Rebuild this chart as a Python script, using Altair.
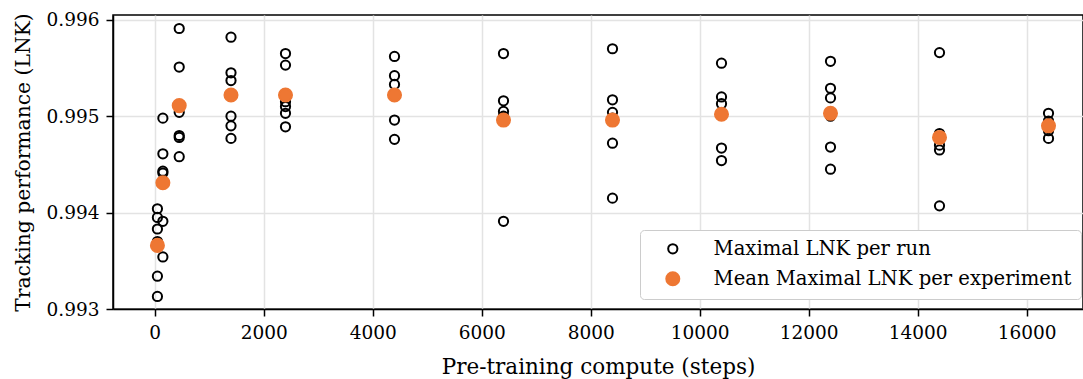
import altair as alt
import pandas as pd

# Pre-training compute (steps) of each experiment
experiment_steps = [50, 150, 450, 1400, 2400, 4400, 6400, 8400, 10400, 12400, 14400, 16400]

# Maximal LNK of each run (6 runs per experiment)
runs_lnk = [
    [0.99404, 0.99395, 0.99383, 0.99370, 0.99334, 0.99313],
    [0.99498, 0.99461, 0.99443, 0.99441, 0.99391, 0.99354],
    [0.99591, 0.99551, 0.99504, 0.99480, 0.99478, 0.99458],
    [0.99582, 0.99545, 0.99537, 0.99500, 0.99490, 0.99477],
    [0.99565, 0.99553, 0.99515, 0.99510, 0.99503, 0.99489],
    [0.99562, 0.99542, 0.99533, 0.99523, 0.99496, 0.99476],
    [0.99565, 0.99516, 0.99505, 0.99500, 0.99499, 0.99391],
    [0.99570, 0.99517, 0.99504, 0.99498, 0.99472, 0.99415],
    [0.99555, 0.99520, 0.99513, 0.99503, 0.99467, 0.99454],
    [0.99557, 0.99529, 0.99519, 0.99500, 0.99468, 0.99445],
    [0.99566, 0.99482, 0.99478, 0.99470, 0.99465, 0.99407],
    [0.99503, 0.99495, 0.99490, 0.99488, 0.99485, 0.99477],
]

# Mean maximal LNK per experiment
mean_lnk = [0.99366, 0.99431, 0.99511, 0.99522, 0.99522, 0.99522,
            0.99496, 0.99496, 0.99502, 0.99503, 0.99478, 0.99490]

series_names = ["Maximal LNK per run", "Mean Maximal LNK per experiment"]
x_ticks = [0, 2000, 4000, 6000, 8000, 10000, 12000, 14000, 16000]
y_ticks = [0.993, 0.994, 0.995, 0.996]

rows = []
for s, vals in zip(experiment_steps, runs_lnk):
    for v in vals:
        rows.append({"steps": s, "lnk": v, "series": series_names[0]})
for s, v in zip(experiment_steps, mean_lnk):
    rows.append({"steps": s, "lnk": v, "series": series_names[1]})
df = pd.DataFrame(rows)

FONT = "DejaVu Serif"
ORANGE = "#ee7733"

chart = alt.Chart(df).mark_point(shape="circle", strokeWidth=2, opacity=1).encode(
    x=alt.X("steps:Q", title="Pre-training compute (steps)",
            scale=alt.Scale(domain=[-765, 17033], nice=False, zero=False),
            axis=alt.Axis(values=x_ticks, format="d")),
    y=alt.Y("lnk:Q", title="Tracking performance (LNK)",
            scale=alt.Scale(domain=[0.993, 0.99605], nice=False, zero=False),
            axis=alt.Axis(values=y_ticks, format=".3f")),
    stroke=alt.Stroke("series:N", sort=series_names,
                      scale=alt.Scale(domain=series_names, range=["black", ORANGE]),
                      legend=alt.Legend(title=None)),
    fill=alt.Fill("series:N", sort=series_names,
                  scale=alt.Scale(domain=series_names, range=["transparent", ORANGE]),
                  legend=alt.Legend(title=None)),
    size=alt.Size("series:N", sort=series_names,
                  scale=alt.Scale(domain=series_names, range=[85, 170]),
                  legend=alt.Legend(title=None)),
).properties(
    width=970, height=294,
    autosize=alt.AutoSizeParams(type="none"),
    padding={"left": 113, "top": 15, "right": 0, "bottom": 70},
).configure_view(
    stroke="black", strokeWidth=1.5
).configure_axis(
    labelFont=FONT, titleFont=FONT, labelFontSize=18.5, titleFontSize=21.5,
    labelColor="black", titleColor="black", titleFontWeight="normal",
    domainColor="black", domainWidth=1.5,
    tickColor="black", tickWidth=1.5, tickSize=7,
    gridColor="#e3e3e3", gridWidth=1.5,
).configure_axisX(
    titlePadding=15, labelPadding=7
).configure_axisY(
    titlePadding=13, labelPadding=7, titleFontSize=20.3
).configure_legend(
    orient="none", legendX=527, legendY=215,
    labelFont=FONT, labelFontSize=19.6, labelColor="black",
    fillColor="white", strokeColor="#cccccc", cornerRadius=4,
    padding=9, symbolOffset=14, labelOffset=31, rowPadding=9,
    symbolStrokeWidth=2, labelLimit=500,
)

chart.save("out.html", embed_options={"renderer": "svg", "actions": False})
